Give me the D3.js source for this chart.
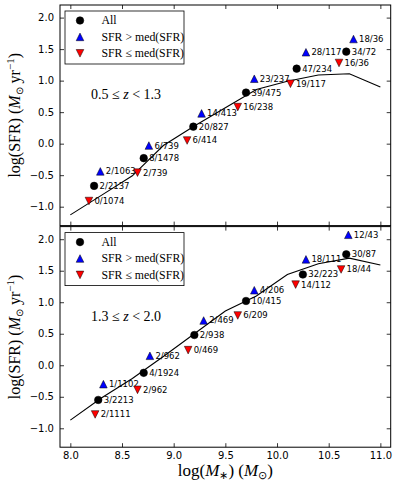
<!DOCTYPE html>
<html>
<head>
<meta charset="utf-8">
<script src="https://cdn.jsdelivr.net/npm/d3@7"></script>
<style>
  body { margin: 0; background: #fff; }
  .tick text { font-family: "DejaVu Sans", sans-serif; font-size: 10px; fill: #000; }
  .ratio { font-family: "DejaVu Sans", sans-serif; font-size: 8.5px; }
  .math { font-family: "Liberation Serif", serif; }
</style>
</head>
<body>
<svg id="chart" width="399" height="488"></svg>
<script>
// stellar mass grid of the model line
const lineMass = [8.0, 8.3, 8.6, 8.9, 9.2, 9.5, 9.8, 10.1, 10.4, 10.7, 11.0]

// 0.5 <= z < 1.3
const lowzLine = [-1.13, -0.82, -0.51, -0.03, 0.28, 0.57, 0.86, 0.99, 1.09, 1.11, 0.90]
const lowzAllM = [8.23, 8.71, 9.19, 9.70, 10.19, 10.67]
const lowzAllSfr = [-0.67, -0.23, 0.27, 0.81, 1.19, 1.46]
const lowzAllTxt = ["2/2137", "8/1478", "20/827", "39/475", "47/234", "34/72"]
const lowzHiM = [8.29, 8.76, 9.27, 9.78, 10.28, 10.74]
const lowzHiSfr = [-0.44, -0.03, 0.48, 1.03, 1.45, 1.66]
const lowzHiTxt = ["2/1063", "6/739", "14/413", "23/237", "28/117", "18/36"]
const lowzLoM = [8.18, 8.65, 9.13, 9.62, 10.13, 10.60]
const lowzLoSfr = [-0.91, -0.46, 0.05, 0.58, 0.95, 1.28]
const lowzLoTxt = ["0/1074", "2/739", "6/414", "16/238", "19/117", "16/36"]

// 1.3 <= z < 2.0
const hizLine = [-0.87, -0.52, -0.21, 0.14, 0.50, 0.86, 1.10, 1.44, 1.61, 1.70, 1.59]
const hizAllM = [8.27, 8.71, 9.20, 9.70, 10.25, 10.67]
const hizAllSfr = [-0.55, -0.12, 0.48, 1.02, 1.44, 1.76]
const hizAllTxt = ["3/2213", "4/1924", "2/938", "10/415", "32/223", "30/87"]
const hizHiM = [8.32, 8.77, 9.29, 9.78, 10.28, 10.69]
const hizHiSfr = [-0.30, 0.15, 0.71, 1.19, 1.68, 2.07]
const hizHiTxt = ["1/1102", "2/962", "2/469", "4/206", "18/111", "12/43"]
const hizLoM = [8.24, 8.65, 9.14, 9.62, 10.18, 10.62]
const hizLoSfr = [-0.78, -0.39, 0.24, 0.79, 1.28, 1.52]
const hizLoTxt = ["2/1111", "2/962", "0/469", "6/209", "14/112", "18/44"]

const xTicks = [8.0, 8.5, 9.0, 9.5, 10.0, 10.5, 11.0]
const yTicks = [-1.0, -0.5, 0.0, 0.5, 1.0, 1.5, 2.0]
const zLabels = [["0.5", "1.3"], ["1.3", "2.0"]]

const zip = (m, s, t) => m.map((d, i) => ({m: d, sfr: s[i], txt: t[i]}))

const panels = [
    {line: lowzLine, z: zLabels[0],
     all: zip(lowzAllM, lowzAllSfr, lowzAllTxt),
     hi: zip(lowzHiM, lowzHiSfr, lowzHiTxt),
     lo: zip(lowzLoM, lowzLoSfr, lowzLoTxt)},
    {line: hizLine, z: zLabels[1],
     all: zip(hizAllM, hizAllSfr, hizAllTxt),
     hi: zip(hizHiM, hizHiSfr, hizHiTxt),
     lo: zip(hizLoM, hizLoSfr, hizLoTxt)}
]

const svg = d3.select("#chart")
const left = 60, right = 390.7
const tops = [5, 226.6], ph = 220.6
const ms = 7.6

const x = d3.scaleLinear().domain([7.9, 11.1]).range([left, right])
const fmt = d => d3.format(".1f")(d).replace("-", "\u2212")

const triUp = `M0,${-ms/2}L${ms/2},${ms/2}L${-ms/2},${ms/2}Z`
const triDown = `M0,${ms/2}L${ms/2},${-ms/2}L${-ms/2},${-ms/2}Z`
const series = [
    {key: "all", fill: "#000000", shape: d3.symbol(d3.symbolCircle, Math.PI * ms * ms / 4)()},
    {key: "hi", fill: "#0000ff", shape: triUp},
    {key: "lo", fill: "#ff0000", shape: triDown}
]

panels.forEach((p, k) => {
    const top = tops[k], bottom = top + ph
    const y = d3.scaleLinear().domain([-1.3, 2.2]).range([bottom, top])
    const g = svg.append("g")

    // axes, ticks inside on all four sides
    g.append("g").attr("transform", `translate(0,${bottom})`)
        .call(d3.axisBottom(x).tickValues(xTicks).tickSize(-4).tickPadding(5)
            .tickFormat(k === 1 ? fmt : () => ""))
    g.append("g").attr("transform", `translate(0,${top})`)
        .call(d3.axisTop(x).tickValues(xTicks).tickSize(-4).tickFormat(""))
    g.append("g").attr("transform", `translate(${left},0)`)
        .call(d3.axisLeft(y).tickValues(yTicks).tickSize(-4).tickPadding(6).tickFormat(fmt))
    g.append("g").attr("transform", `translate(${right},0)`)
        .call(d3.axisRight(y).tickValues(yTicks).tickSize(-4).tickFormat(""))
    g.selectAll(".domain").remove()
    g.selectAll(".tick line").attr("stroke", "#000").attr("stroke-width", 0.8)

    g.append("rect")
        .attr("x", left).attr("y", top)
        .attr("width", right - left).attr("height", ph)
        .attr("fill", "none").attr("stroke", "#000").attr("stroke-width", 1)

    // model line
    g.append("path")
        .datum(lineMass.map((m, i) => [m, p.line[i]]))
        .attr("d", d3.line().x(d => x(d[0])).y(d => y(d[1])))
        .attr("fill", "none").attr("stroke", "#000").attr("stroke-width", 1.1)

    series.forEach(s => {
        const pts = g.append("g").selectAll("g").data(p[s.key]).enter().append("g")
            .attr("transform", d => `translate(${x(d.m)},${y(d.sfr)})`)
        pts.append("path")
            .attr("d", s.shape)
            .attr("fill", s.fill).attr("stroke", "#000").attr("stroke-width", 0.5)
        pts.append("text")
            .attr("class", "ratio")
            .attr("x", 5.5).attr("dy", "0.35em")
            .text(d => d.txt)
    })

    // legend
    const lg = g.append("g").attr("transform", `translate(65,${top + 6})`)
    lg.append("rect")
        .attr("width", 119).attr("height", 53)
        .attr("fill", "#fff").attr("stroke", "#000").attr("stroke-width", 0.8)
    const entries = [
        {s: series[0], txt: ["All"]},
        {s: series[1], txt: ["SFR", " > ", "med(SFR)"]},
        {s: series[2], txt: ["SFR", " \u2264 ", "med(SFR)"]}
    ]
    entries.forEach((e, i) => {
        const row = lg.append("g").attr("transform", `translate(15,${9.5 + i * 16.4})`)
        row.append("path").attr("d", e.s.shape)
            .attr("fill", e.s.fill).attr("stroke", "#000").attr("stroke-width", 0.5)
        row.append("text")
            .attr("class", "math").attr("font-size", 11.8)
            .attr("x", 21.5).attr("dy", "0.33em")
            .text(e.txt.join(""))
    })

    // redshift range
    const zt = g.append("text").attr("class", "math").attr("font-size", 14)
        .attr("x", 91).attr("y", top + 94)
    zt.append("tspan").text(p.z[0] + " \u2264 ")
    zt.append("tspan").attr("font-style", "italic").text("z")
    zt.append("tspan").text(" < " + p.z[1])

    // y label
    const yl = g.append("text").attr("class", "math").attr("font-size", 16)
        .attr("text-anchor", "middle")
        .attr("transform", `translate(20,${top + ph / 2}) rotate(-90)`)
    yl.append("tspan").text("log(SFR) (")
    yl.append("tspan").attr("font-style", "italic").text("M")
    yl.append("tspan").attr("font-size", 10).attr("dy", 3).text("\u2299")
    yl.append("tspan").attr("dy", -3).text(" yr")
    yl.append("tspan").attr("font-size", 11).attr("dy", -6).text("\u22121")
    yl.append("tspan").attr("dy", 6).text(")")
})

// x label
const xl = svg.append("text").attr("class", "math").attr("font-size", 17)
    .attr("text-anchor", "middle")
    .attr("x", (left + right) / 2).attr("y", 476)
xl.append("tspan").text("log(")
xl.append("tspan").attr("font-style", "italic").text("M")
xl.append("tspan").attr("font-size", 11).attr("dy", 3).text("\u2217")
xl.append("tspan").attr("dy", -3).text(") (")
xl.append("tspan").attr("font-style", "italic").text("M")
xl.append("tspan").attr("font-size", 11).attr("dy", 3).text("\u2299")
xl.append("tspan").attr("dy", -3).text(")")
</script>
</body>
</html>
